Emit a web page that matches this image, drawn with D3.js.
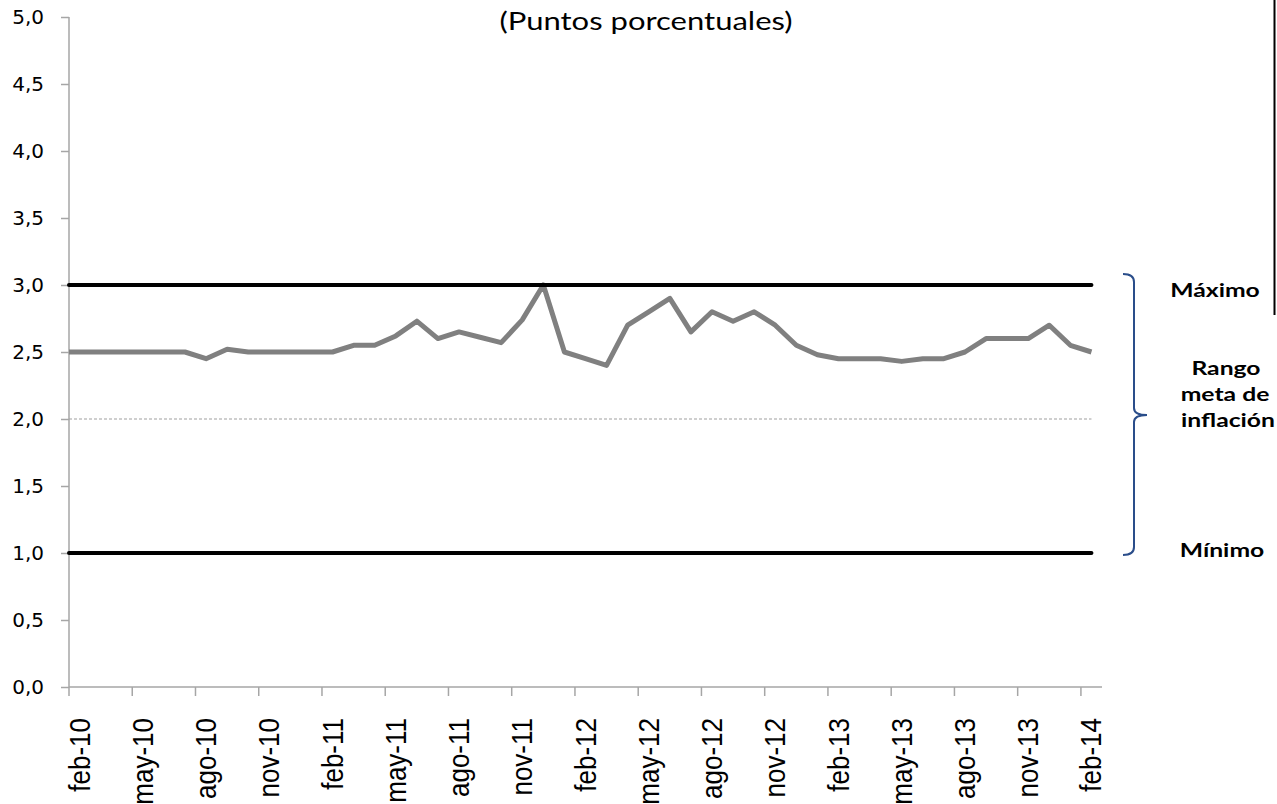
<!DOCTYPE html>
<html lang="es">
<head>
<meta charset="UTF-8">
<title>Rango meta de inflación</title>
<style>
  body { margin: 0; background: #fff; }
  .axis path, .axis line { stroke: #a6a6a6; stroke-width: 1.5; }
</style>
</head>
<body>
<div id="chart"></div>
<script src="https://cdn.jsdelivr.net/npm/d3@7/dist/d3.min.js"></script>
<script>
// monthly categories feb-10 .. feb-14
const categories = [
  "feb-10","mar-10","abr-10","may-10","jun-10","jul-10","ago-10","sep-10","oct-10","nov-10","dic-10",
  "ene-11","feb-11","mar-11","abr-11","may-11","jun-11","jul-11","ago-11","sep-11","oct-11","nov-11","dic-11",
  "ene-12","feb-12","mar-12","abr-12","may-12","jun-12","jul-12","ago-12","sep-12","oct-12","nov-12","dic-12",
  "ene-13","feb-13","mar-13","abr-13","may-13","jun-13","jul-13","ago-13","sep-13","oct-13","nov-13","dic-13",
  "ene-14","feb-14"
];
// expectativas de inflacion (puntos porcentuales)
const expectativas = [
  2.50, 2.50, 2.50, 2.50, 2.50, 2.50, 2.45, 2.52, 2.50, 2.50, 2.50,
  2.50, 2.50, 2.55, 2.55, 2.62, 2.73, 2.60, 2.65, 2.61, 2.57, 2.74, 3.00,
  2.50, 2.45, 2.40, 2.70, 2.80, 2.90, 2.65, 2.80, 2.73, 2.80, 2.70, 2.55,
  2.48, 2.45, 2.45, 2.45, 2.43, 2.45, 2.45, 2.50, 2.60, 2.60, 2.60, 2.70,
  2.55, 2.50
];
const maximo = 3.0;
const minimo = 1.0;
const meta = 2.0;
const yTicks = [0, 0.5, 1, 1.5, 2, 2.5, 3, 3.5, 4, 4.5, 5];
const sideLabels = ["Máximo", "Rango", "meta de", "inflación", "Mínimo"];

const width = 1277, height = 804;
const mLeft = 69, mRight = 1102, mTop = 17, mBottom = 687;

const svg = d3.select("#chart").append("svg")
  .attr("width", width)
  .attr("height", height);

const x = d3.scaleBand().domain(categories).range([mLeft, mRight]);
const bw = x.bandwidth();
const y = d3.scaleLinear().domain([0, 5]).range([mBottom, mTop]);
const cx = d => x(d) + bw / 2;
const xStart = x.range()[0];
const xEnd = cx(categories[categories.length - 1]);

// title
svg.append("text")
  .attr("transform", "translate(646,30) scale(1.24,1)")
  .attr("text-anchor", "middle")
  .style("font-family", "Lato, 'Open Sans', sans-serif")
  .style("font-size", "25px")
  .text("(Puntos porcentuales)");

// axes
const yAxis = svg.append("g")
  .attr("class", "axis")
  .attr("transform", `translate(${mLeft},0)`)
  .call(d3.axisLeft(y).tickValues(yTicks).tickSize(8).tickPadding(17)
    .tickFormat(d => d3.format(".1f")(d).replace(".", ",")));
yAxis.select(".domain").attr("d", `M0,${mTop}V${mBottom}`);
yAxis.selectAll(".tick text")
  .style("font-family", "'DejaVu Sans', sans-serif")
  .style("font-size", "20px")
  .attr("fill", "#000");

const xAxis = svg.append("g")
  .attr("class", "axis")
  .attr("transform", `translate(0,${mBottom})`)
  .call(d3.axisBottom(x).tickValues(categories.filter((d, i) => i % 3 === 0)).tickSize(9));
xAxis.select(".domain").attr("d", `M${mLeft},0H${mRight}`);
xAxis.selectAll(".tick line").attr("transform", `translate(${-bw / 2},0)`);
xAxis.selectAll(".tick text")
  .style("font-family", "'Liberation Sans', Arial, sans-serif")
  .style("font-size", "26px")
  .attr("fill", "#000")
  .attr("transform", "rotate(-90) scale(1,1.1)")
  .attr("text-anchor", "end")
  .attr("x", -31)
  .attr("y", 0)
  .attr("dy", "0.35em");

// meta (dashed)
svg.append("line")
  .attr("x1", xStart).attr("x2", xEnd)
  .attr("y1", y(meta)).attr("y2", y(meta))
  .attr("stroke", "#a0a0a0")
  .attr("stroke-width", 1.2)
  .attr("stroke-dasharray", "3,2");

// expectativas
const pts = expectativas.map((v, i) => [cx(categories[i]), y(v)]);
pts.unshift([xStart, y(expectativas[0])]);
svg.append("path")
  .attr("d", d3.line()(pts))
  .attr("fill", "none")
  .attr("stroke", "#808080")
  .attr("stroke-width", 5)
  .attr("stroke-linejoin", "round");

// maximo / minimo
svg.selectAll(".lim")
  .data([maximo, minimo])
  .join("line")
  .attr("x1", xStart).attr("x2", xEnd)
  .attr("y1", d => y(d)).attr("y2", d => y(d))
  .attr("stroke", "#000")
  .attr("stroke-width", 4)
  .attr("stroke-linecap", "round");

// bracket
const bx = 1134, by0 = y(maximo) - 11, by1 = y(minimo) + 2, bm = y(meta) - 4;
svg.append("path")
  .attr("d", `M${bx - 11},${by0} Q${bx},${by0} ${bx},${by0 + 8} L${bx},${bm - 7} Q${bx},${bm} ${bx + 13},${bm}` +
             ` Q${bx},${bm} ${bx},${bm + 7} L${bx},${by1 - 8} Q${bx},${by1} ${bx - 11},${by1}`)
  .attr("fill", "none")
  .attr("stroke", "#2a4d8a")
  .attr("stroke-width", 2);

// side labels
const sidePos = [[1215, 297], [1226, 375], [1225, 401], [1228, 427], [1222, 557]];
svg.selectAll(".side")
  .data(sideLabels)
  .join("text")
  .attr("class", "side")
  .attr("transform", (d, i) => `translate(${sidePos[i][0]},${sidePos[i][1]}) scale(1.3,1)`)
  .attr("text-anchor", "middle")
  .style("font-family", "Lato, 'Open Sans', sans-serif")
  .style("font-weight", "bold")
  .style("font-size", "19px")
  .text(d => d);

// box edge top right
svg.append("line")
  .attr("x1", 1274.5).attr("x2", 1274.5)
  .attr("y1", 0).attr("y2", 315)
  .attr("stroke", "#000")
  .attr("stroke-width", 2);
</script>
</body>
</html>
